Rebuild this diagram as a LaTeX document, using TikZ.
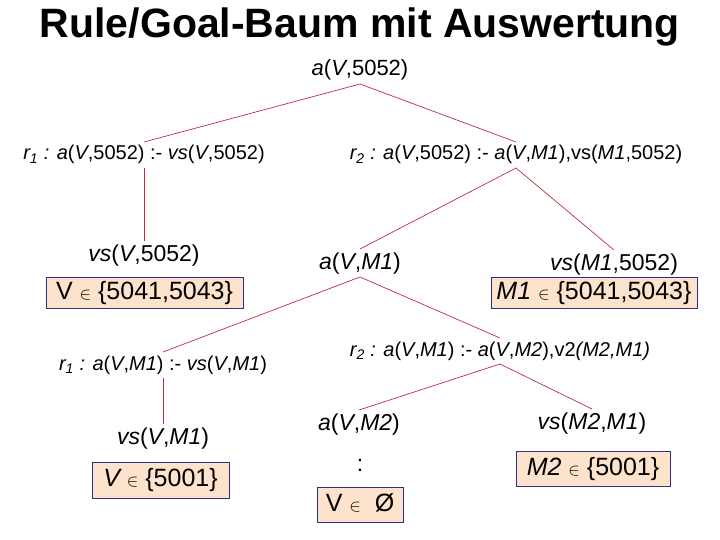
\documentclass[tikz,border=0pt]{standalone}
\usepackage{fontspec}
\setmainfont{Liberation Sans}
\newcommand{\I}[1]{{\itshape #1}}
\newcommand{\Elem}{{\fontsize{17}{17}\selectfont$\in$}}
\definecolor{edgered}{HTML}{B8303C}
\definecolor{boxblue}{HTML}{2E2E8A}
\definecolor{boxfill}{HTML}{FDE3CC}
\tikzset{
  term/.style={font=\fontsize{23}{27}\selectfont, inner sep=0pt, text height=17pt, text depth=5pt, outer sep=3pt},
  rulet/.style={font=\fontsize{20}{24}\selectfont, inner sep=0pt, text height=15pt, text depth=5pt, outer sep=3pt},
  setbox/.style={draw=boxblue, line width=0.9pt, fill=boxfill, font=\fontsize{25}{29}\selectfont, inner sep=0pt, text height=18pt, text depth=5pt},
  conn/.style={draw=edgered, line width=0.7pt}
}
\begin{document}
\begin{tikzpicture}[x=1pt,y=-1pt]
\useasboundingbox (0,0) rectangle (720,540);
\node[anchor=base, font=\fontsize{41}{44}\selectfont\bfseries] (title) at (360,38) {Rule/Goal-Baum mit Auswertung};

\node[term, font=\fontsize{22}{26}\selectfont] (root) at (360,70) {\I{a}(\I{V},5052)};
\node[rulet] (r1) at (144,155) {\I{r}\textsubscript{\I{1}} \I{:} \I{a}(\I{V},5052) :- \I{vs}(\I{V},5052)};
\node[rulet] (r2) at (516,155) {\I{r}\textsubscript{\I{2}} \I{:} \I{a}(\I{V},5052) :- \I{a}(\I{V},\I{M1}),vs(\I{M1},5052)};

\node[term] (vsA) at (144,255) {\I{vs}(\I{V},5052)};
\node[setbox, minimum width=197pt, minimum height=31pt] (dA) at (144.5,292.5) {V \Elem\ \{5041,5043\}};

\node[term] (aM1) at (360,263) {\I{a}(\I{V},\I{M1})};
\node[term] (vsM1) at (614,264) {\I{vs}(\I{M1},5052)};
\node[setbox, minimum width=206pt, minimum height=31pt] (dM1) at (594,292.5) {\I{M1} \Elem\ \{5041,5043\}};

\node[rulet] (r1b) at (163,365) {\I{r}\textsubscript{\I{1}} \I{:} \I{a}(\I{V},\I{M1}) :- \I{vs}(\I{V},\I{M1})};
\node[rulet] (r2b) at (500,351) {\I{r}\textsubscript{\I{2}} \I{:} \I{a}(\I{V},\I{M1}) :- \I{a}(\I{V},\I{M2}),v2\I{(M2,M1)}};

\node[term] (vsB) at (163,438) {\I{vs}(\I{V},\I{M1})};
\node[setbox, minimum width=137pt, minimum height=36pt] (dB) at (160.5,480) {\I{V} \Elem\ \{5001\}};

\node[term] (aM2) at (359,424) {\I{a}(\I{V},\I{M2})};
\node[term] (dots) at (360,465) {:};
\node[setbox, minimum width=86pt, minimum height=35pt] (dC) at (360,504.5) {V \Elem\ \ Ø};

\node[term] (vsM2) at (592,423) {\I{vs}(\I{M2},\I{M1})};
\node[setbox, minimum width=154pt, minimum height=35pt] (dD) at (593,468.5) {\I{M2} \Elem\ \{5001\}};

\path[conn] (root.south) -- (r1.north);
\path[conn] (root.south) -- (r2.north);
\path[conn] (r1.south) -- (vsA.north);
\path[conn] (r2.south) -- (aM1.north);
\path[conn] (r2.south) -- (vsM1.north);
\path[conn] (aM1.south) -- (r1b.north);
\path[conn] (aM1.south) -- (r2b.north);
\path[conn] (r1b.south) -- (vsB.north);
\path[conn] (r2b.south) -- (aM2.north);
\path[conn] (r2b.south) -- (vsM2.north);
\end{tikzpicture}
\end{document}
